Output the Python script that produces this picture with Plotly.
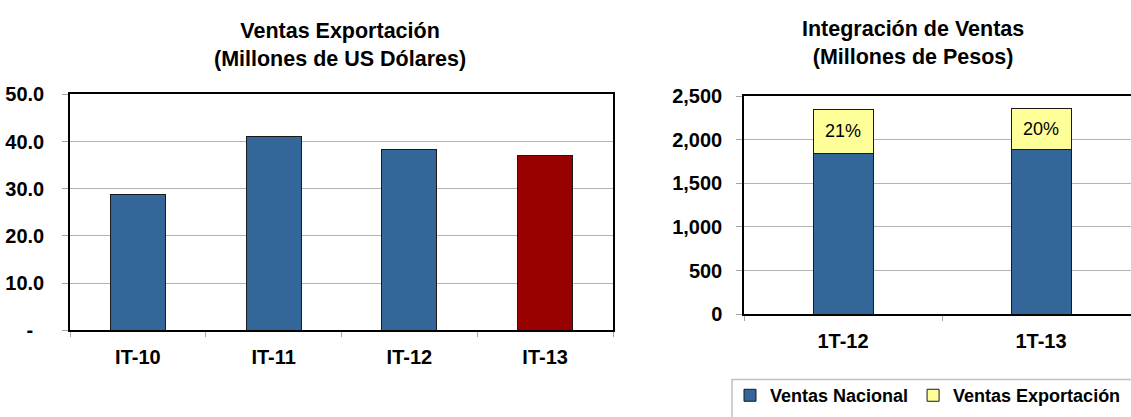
import plotly.graph_objects as go

W, H = 1131, 417

# ---- data: left chart (Ventas Exportación, millones de US dólares)
exp_cats = ["IT-10", "IT-11", "IT-12", "IT-13"]
exp_vals = [28.7, 41.0, 38.3, 37.0]
exp_colors = ["#336699", "#336699", "#336699", "#990000"]
exp_yticks = [0, 10, 20, 30, 40, 50]
exp_yticktext = ["-\u00a0\u00a0", "10.0", "20.0", "30.0", "40.0", "50.0"]

# ---- data: right chart (Integración de Ventas, millones de pesos)
int_cats = ["1T-12", "1T-13"]
int_nacional = [1848, 1891]
int_export = [500, 464]
int_yticks = [0, 500, 1000, 1500, 2000, 2500]

FONT = "Liberation Sans, Arial, sans-serif"
BLUE = "#336699"
YELLOW = "#FFFF99"
OUTLINE = "#1a1a1a"
GRID = "#b3b3b3"
TICKC = "#a6a6a6"

int_pct = [f"{round(e / (n + e) * 100)}%" for n, e in zip(int_nacional, int_export)]

fig = go.Figure()

fig.add_trace(go.Bar(
    x=exp_cats, y=exp_vals, width=0.405,
    marker=dict(color=exp_colors, line=dict(color=OUTLINE, width=1)),
    xaxis="x", yaxis="y", showlegend=False, hoverinfo="skip",
))

fig.add_trace(go.Bar(
    name="Ventas Nacional", x=int_cats, y=int_nacional, width=0.303,
    marker=dict(color=BLUE, line=dict(color=OUTLINE, width=1)),
    xaxis="x2", yaxis="y2", hoverinfo="skip",
))
fig.add_trace(go.Bar(
    name="Ventas Exportación", x=int_cats, y=int_export, width=0.303,
    marker=dict(color=YELLOW, line=dict(color=OUTLINE, width=1)),
    text=int_pct, textposition="inside", insidetextanchor="middle",
    textfont=dict(family=FONT, size=18, color="black"),
    xaxis="x2", yaxis="y2", hoverinfo="skip",
))

axis_common = dict(
    showline=True, linecolor="black", linewidth=1.5,
    ticks="outside", tickcolor=TICKC, tickwidth=1,
    tickfont=dict(family=FONT, size=20, color="black", weight="bold"),
    zeroline=False, fixedrange=True,
)

fig.update_layout(
    width=W, height=H,
    margin=dict(l=0, r=0, t=0, b=0),
    paper_bgcolor="white", plot_bgcolor="white",
    barmode="stack",
    xaxis=dict(
        **axis_common, domain=[70 / W, 613 / W], anchor="y",
        type="category", range=[-0.5, 3.5], tickson="boundaries",
        ticklen=5, mirror=True, showgrid=False, ticklabelstandoff=8,
    ),
    yaxis=dict(
        **axis_common, domain=[1 - 337 / H, 1 - 88 / H], anchor="x",
        range=[0, 50], tickvals=exp_yticks, ticktext=exp_yticktext,
        ticklen=6, mirror=True, showgrid=True, gridcolor=GRID, gridwidth=1,
        ticklabelstandoff=14,
    ),
    xaxis2=dict(
        **axis_common, domain=[744 / W, 1], anchor="y2",
        type="category", range=[-0.5, -0.5 + (W - 744) / 198], tickson="boundaries",
        ticklen=5, mirror=True, showgrid=False, ticklabelstandoff=8,
    ),
    yaxis2=dict(
        **axis_common, domain=[1 - 320 / H, 1 - 90 / H], anchor="x2",
        range=[0, 2500], tickvals=int_yticks, tickformat=",",
        ticklen=6, mirror=False, showgrid=True, gridcolor=GRID, gridwidth=1,
        ticklabelstandoff=10,
    ),
    legend=dict(
        orientation="h", x=730 / W, xanchor="left", y=1 - 406 / H, yanchor="middle",
        font=dict(family=FONT, size=18, color="black", weight="bold"),
        bgcolor="rgba(0,0,0,0)", borderwidth=0, traceorder="normal",
    ),
    annotations=[
        dict(text="<b>Ventas Exportación</b><br><b>(Millones de US Dólares)</b>",
             xref="paper", yref="paper", x=340 / W, y=1 - 36 / H,
             xanchor="center", yanchor="middle", showarrow=False,
             font=dict(family=FONT, size=21.5, color="black")),
        dict(text="<b>Integración de Ventas</b><br><b>(Millones de Pesos)</b>",
             xref="paper", yref="paper", x=913 / W, y=1 - 34 / H,
             xanchor="center", yanchor="middle", showarrow=False,
             font=dict(family=FONT, size=21.5, color="black")),
    ],
    shapes=[
        dict(type="rect", xref="paper", yref="paper",
             x0=732 / W, x1=1.2, y0=-0.3, y1=1 - 389 / H,
             line=dict(color="#c0c0c0", width=1.5), fillcolor="rgba(0,0,0,0)"),
    ],
)

fig.write_html(
    "out.html",
    config={"displayModeBar": False},
    post_script="document.body.style.margin='0px';document.body.style.overflow='hidden';",
)
